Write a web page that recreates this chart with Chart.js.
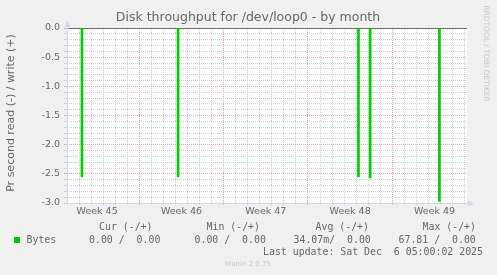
<!DOCTYPE html>
<html>
<head>
<meta charset="utf-8">
<script src="https://cdn.jsdelivr.net/npm/chart.js@4"></script>
<style>
  html, body { margin: 0; padding: 0; background: #f0f0f0; }
  canvas { display: block; }
</style>
</head>
<body>
<canvas id="chart-loop0" width="497" height="275"></canvas>
<script>
// x values are days counted from the left edge of the month graph
const graphDays = 33.2;
const weekLabels = ['Week 45', 'Week 46', 'Week 47', 'Week 48', 'Week 49'];
const weekStarts = [-1, 6, 13, 20, 27];
const readDays = [1.24, 9.22, 24.19, 25.16, 30.91];
const readValues = [-2.55, -2.55, -2.55, -2.57, -2.97];
const zeroDays = [0, 33.2];
const zeroValues = [0, 0];
const yMin = -3.0;
const yMax = 0.0;
const legendHeaders = ['Cur (-/+)', 'Min (-/+)', 'Avg (-/+)', 'Max (-/+)'];
const legendValues = ['0.00 /  0.00', '0.00 /  0.00', '34.07m/  0.00', '67.81 /  0.00'];
const seriesName = 'Bytes';
const lastUpdate = 'Last update: Sat Dec  6 05:00:02 2025';

const C_GRID = '#cfcfcf';
const C_MGRID = '#e6a8a8';
const C_AXIS = '#cfd6f8';
const C_FONT = '#666666';
const C_GREEN = '#00cc00';

function isWeekCenter(v) {
    return weekStarts.some(s => Math.abs(s + 3.5 - v) < 1e-6);
}

const decor = {
    id: 'muninDecor',
    beforeDraw(chart) {
        const { ctx, chartArea: a } = chart;
        ctx.save();
        ctx.fillStyle = '#f0f0f0';
        ctx.fillRect(0, 0, chart.width, chart.height);
        ctx.fillStyle = '#ffffff';
        ctx.fillRect(a.left, a.top, a.right - a.left, a.bottom - a.top);
        ctx.restore();
    },
    afterDraw(chart) {
        const { ctx, chartArea: a } = chart;
        ctx.save();

        // axes + arrows
        ctx.strokeStyle = C_AXIS;
        ctx.fillStyle = C_AXIS;
        ctx.lineWidth = 1;
        ctx.beginPath();
        ctx.moveTo(a.left + 0.5, a.bottom + 2);
        ctx.lineTo(a.left + 0.5, a.top - 4);
        ctx.moveTo(a.left - 2, a.bottom + 0.5);
        ctx.lineTo(a.right + 4, a.bottom + 0.5);
        ctx.stroke();
        ctx.beginPath();
        ctx.moveTo(a.left + 0.5, a.top - 7);
        ctx.lineTo(a.left - 2.5, a.top - 1);
        ctx.lineTo(a.left + 3.5, a.top - 1);
        ctx.closePath();
        ctx.fill();
        ctx.beginPath();
        ctx.moveTo(a.right + 7, a.bottom + 0.5);
        ctx.lineTo(a.right + 1, a.bottom - 2.5);
        ctx.lineTo(a.right + 1, a.bottom + 3.5);
        ctx.closePath();
        ctx.fill();

        // title
        ctx.fillStyle = C_FONT;
        ctx.textBaseline = 'middle';
        ctx.textAlign = 'center';
        ctx.font = '12.5px "DejaVu Sans"';
        ctx.fillText('Disk throughput for /dev/loop0 - by month', 248, 18);

        // vertical axis title
        ctx.save();
        ctx.translate(11, 113);
        ctx.rotate(-Math.PI / 2);
        ctx.font = '11px "DejaVu Sans"';
        ctx.fillText('Pr second read (-) / write (+)', 0, 0);
        ctx.restore();

        // legend table
        ctx.textAlign = 'left';
        ctx.font = '9.9px "DejaVu Sans Mono"';
        const headerX = [99, 206.5, 315.5, 422.5];
        const valueX = [89, 194.5, 293.5, 398.5];
        legendHeaders.forEach((h, i) => ctx.fillText(h, headerX[i], 227));
        ctx.fillText(seriesName, 26.5, 240);
        legendValues.forEach((v, i) => ctx.fillText(v, valueX[i], 240));
        ctx.textAlign = 'right';
        ctx.fillText(lastUpdate, 483, 252);
        ctx.fillStyle = C_GREEN;
        ctx.fillRect(14, 237, 6, 6);

        // credits
        ctx.fillStyle = '#c8c8c8';
        ctx.textAlign = 'center';
        ctx.font = '7px "DejaVu Sans"';
        ctx.fillText('Munin 2.0.75', 248, 264);
        ctx.save();
        ctx.translate(486, 53.5);
        ctx.rotate(Math.PI / 2);
        ctx.font = '7.5px "DejaVu Sans"';
        ctx.fillText('RRDTOOL / TOBI OETIKER', 0, 0);
        ctx.restore();

        ctx.restore();
    }
};

const ctx = document.getElementById('chart-loop0');
new Chart(ctx, {
    type: 'bar',
    data: {
        datasets: [
            {
                type: 'bar',
                label: seriesName,
                data: readDays.map((d, i) => ({ x: d, y: readValues[i] })),
                backgroundColor: C_GREEN,
                borderWidth: 0,
                barThickness: 2
            },
            {
                type: 'line',
                label: 'zero',
                data: zeroDays.map((d, i) => ({ x: d, y: zeroValues[i] })),
                borderColor: '#000000',
                borderWidth: 1,
                pointRadius: 0
            }
        ]
    },
    options: {
        responsive: false,
        animation: false,
        layout: { padding: { left: 0, top: 28, right: 30, bottom: 52 } },
        plugins: {
            legend: { display: false },
            tooltip: { enabled: false }
        },
        scales: {
            x: {
                type: 'linear',
                min: 0,
                max: graphDays,
                offset: false,
                afterFit(scale) { scale.height = 20; },
                afterBuildTicks(scale) {
                    const t = [];
                    for (let d = 0; d <= Math.floor(graphDays); d++) t.push({ value: d });
                    weekStarts.forEach(s => t.push({ value: s + 3.5 }));
                    t.sort((p, q) => p.value - q.value);
                    scale.ticks = t;
                },
                border: { display: false, dash: [1, 1] },
                grid: {
                    offset: false,
                    tickLength: 2,
                    color(c) {
                        if (!c.tick || isWeekCenter(c.tick.value) || c.tick.value === 0) return 'rgba(0,0,0,0)';
                        return (c.tick.value % 7 === 6) ? C_MGRID : C_GRID;
                    },
                    tickColor(c) {
                        if (!c.tick || isWeekCenter(c.tick.value)) return 'rgba(0,0,0,0)';
                        return (c.tick.value % 7 === 6) ? C_MGRID : C_GRID;
                    }
                },
                ticks: {
                    autoSkip: false,
                    maxRotation: 0,
                    padding: 1,
                    color: C_FONT,
                    font: { family: 'DejaVu Sans', size: 9.5 },
                    callback(value) {
                        const i = weekStarts.findIndex(s => Math.abs(s + 3.5 - value) < 1e-6);
                        return i >= 0 ? weekLabels[i] : '';
                    }
                }
            },
            y: {
                type: 'linear',
                min: yMin,
                max: yMax,
                afterFit(scale) { scale.width = 67; },
                afterBuildTicks(scale) {
                    const t = [];
                    for (let k = 0; k <= 30; k++) t.push({ value: Math.round((yMin + k * 0.1) * 10) / 10 });
                    scale.ticks = t;
                },
                border: { display: false, dash: [1, 1] },
                grid: {
                    tickLength: 3,
                    color(c) {
                        if (!c.tick || c.tick.value === yMin) return 'rgba(0,0,0,0)';
                        return (Math.round(c.tick.value * 10) % 5 === 0) ? C_MGRID : C_GRID;
                    },
                    tickColor(c) {
                        if (!c.tick) return 'rgba(0,0,0,0)';
                        return (Math.round(c.tick.value * 10) % 5 === 0) ? C_MGRID : C_GRID;
                    }
                },
                ticks: {
                    autoSkip: false,
                    padding: 4,
                    color: C_FONT,
                    font: { family: 'DejaVu Sans', size: 9.5 },
                    callback(value) {
                        const tenth = Math.round(value * 10);
                        if (tenth % 5 !== 0) return '';
                        return (tenth / 10).toFixed(1).replace('-0.0', '0.0');
                    }
                }
            }
        }
    },
    plugins: [decor]
});
</script>
</body>
</html>
